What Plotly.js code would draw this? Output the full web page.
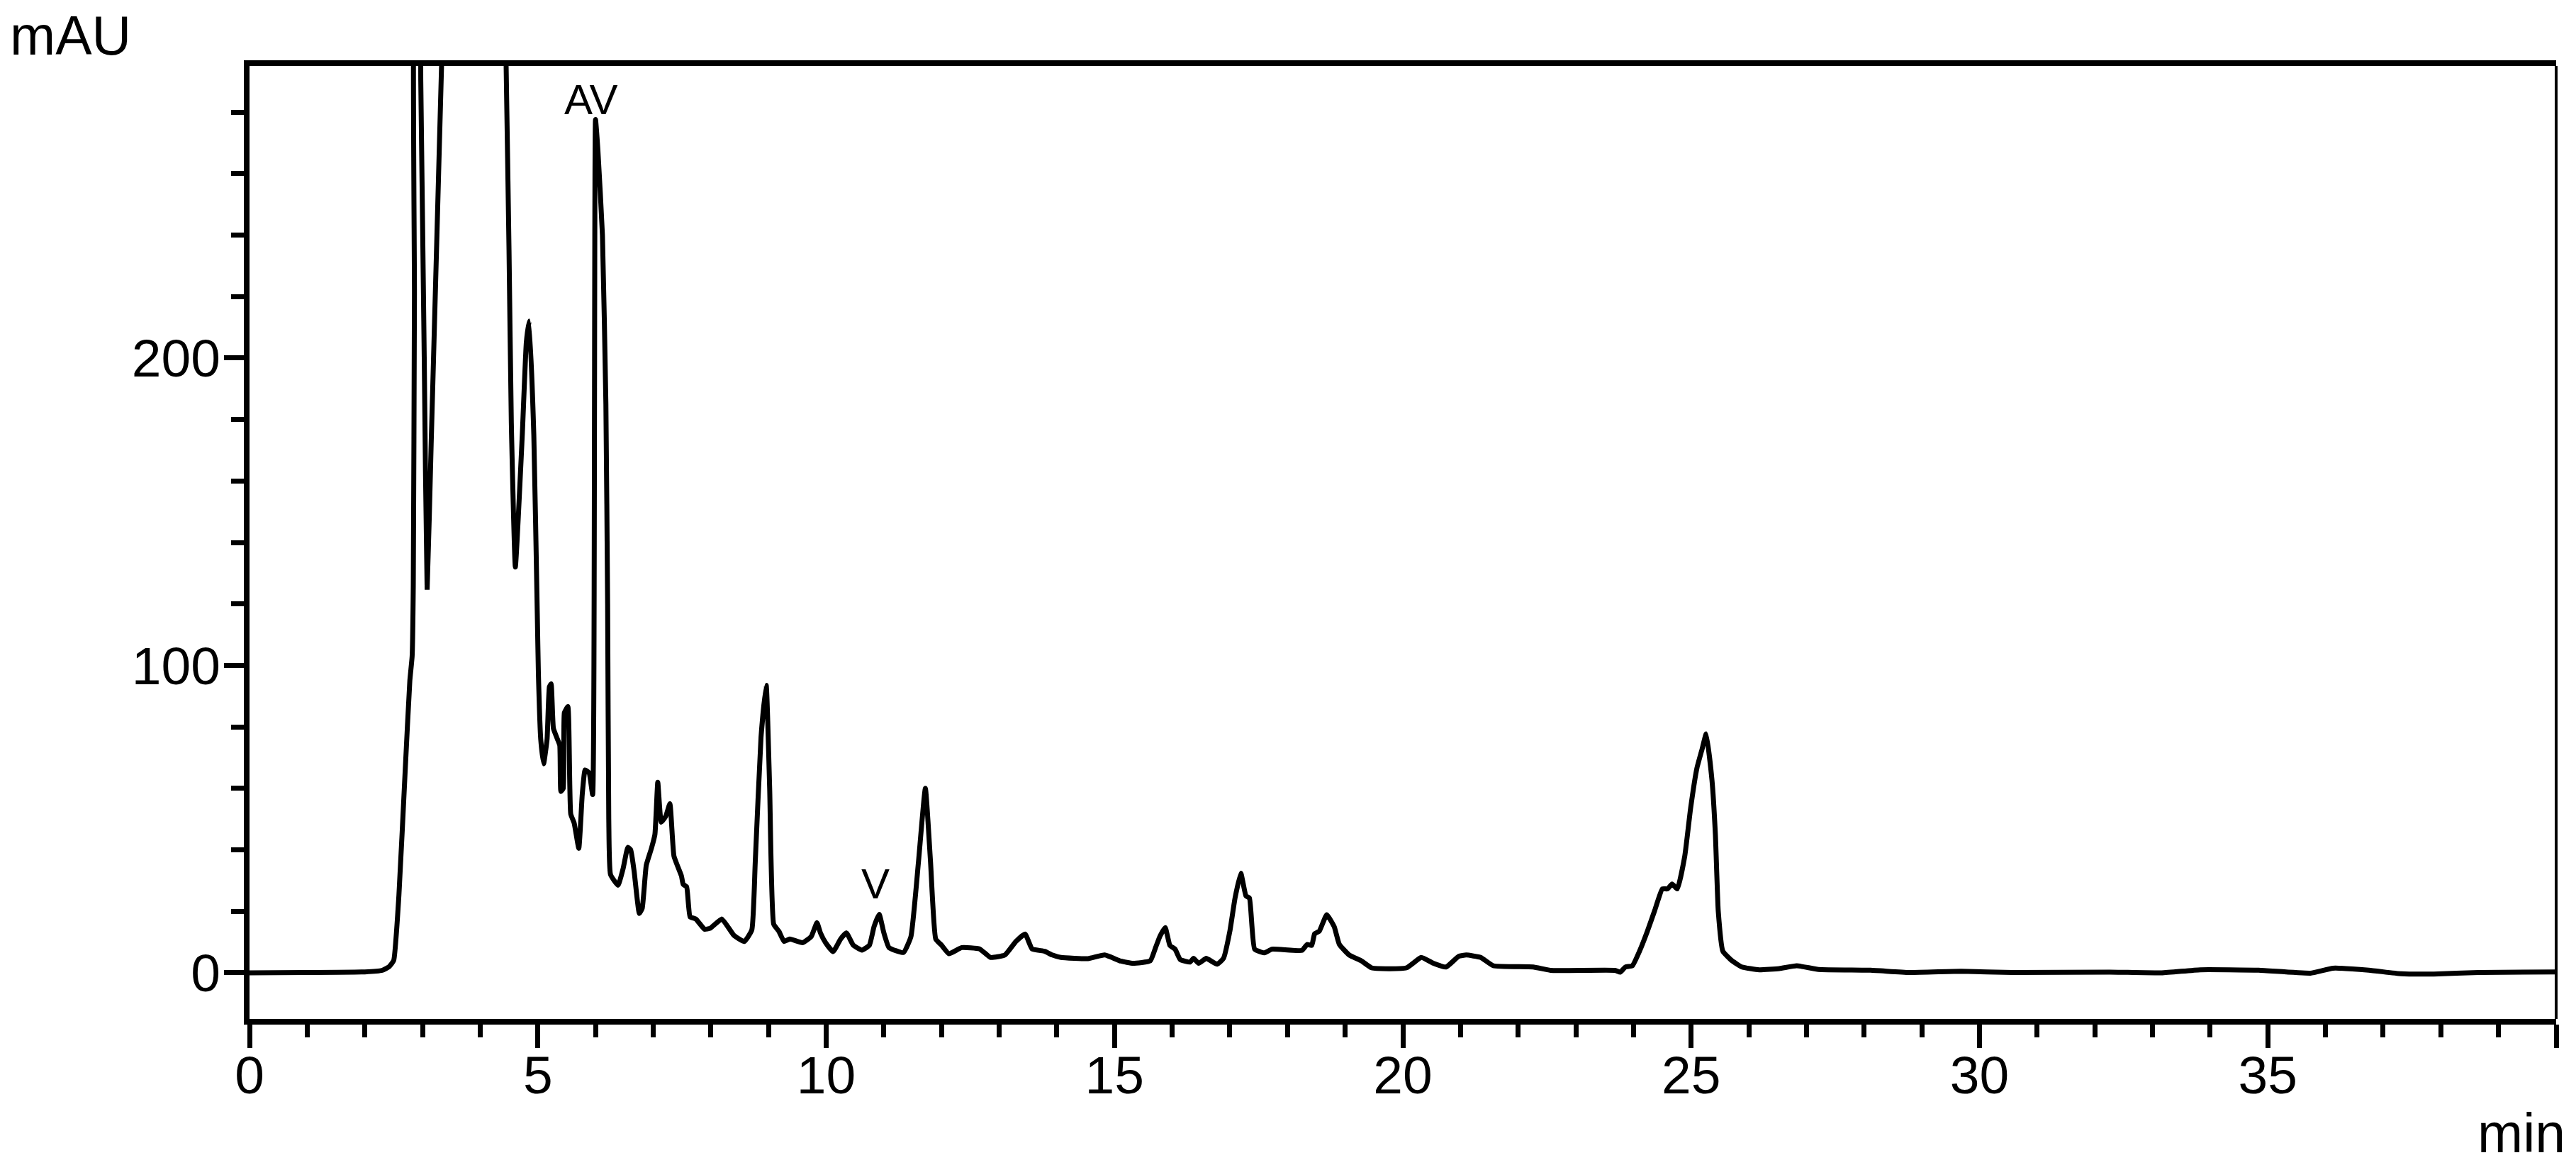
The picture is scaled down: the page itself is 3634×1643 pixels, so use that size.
<!DOCTYPE html>
<html>
<head>
<meta charset="utf-8">
<script src="https://cdn.plot.ly/plotly-3.0.1.min.js"></script>
<style>
  html, body { margin: 0; padding: 0; background: #fff; }
  #chart { width: 3634px; height: 1643px; }
</style>
</head>
<body>
<div id="chart"></div>
<script>
// retention time (min) and absorbance (mAU)
var time = [0, 1.0, 2.0, 2.3, 2.42, 2.5, 2.59, 2.7, 2.78, 2.82, 2.84, 2.86, 2.88, 2.94, 2.97, 3.03,
    3.08, 3.15, 3.25, 3.33, 3.40, 4.40, 4.45, 4.50, 4.54, 4.61, 4.73, 4.80, 4.85, 4.93, 4.99, 5.01,
    5.05, 5.10, 5.16, 5.20, 5.23, 5.27, 5.34, 5.38, 5.40, 5.44, 5.46, 5.52, 5.57, 5.63, 5.71, 5.77,
    5.82, 5.89, 5.95, 6.00, 6.04, 6.12, 6.18, 6.21, 6.23, 6.26, 6.39, 6.48, 6.56, 6.61, 6.67, 6.76,
    6.81, 6.88, 6.97, 7.03, 7.08, 7.14, 7.22, 7.29, 7.36, 7.49, 7.52, 7.58, 7.64, 7.74, 7.89, 7.99,
    8.19, 8.40, 8.58, 8.71, 8.77, 8.87, 8.96, 9.02, 9.09, 9.18, 9.27, 9.37, 9.59, 9.74, 9.84, 9.90,
    9.99, 10.12, 10.25, 10.35, 10.47, 10.62, 10.75, 10.83, 10.92, 11.0, 11.09, 11.34, 11.47, 11.6,
    11.72, 11.81, 11.9, 12.0, 12.13, 12.35, 12.66, 12.85, 13.1, 13.29, 13.45, 13.57, 13.79, 13.92,
    14.07, 14.54, 14.83, 15.11, 15.32, 15.62, 15.71, 15.79, 15.88, 15.96, 16.05, 16.14, 16.31, 16.37,
    16.46, 16.59, 16.78, 16.89, 17.0, 17.09, 17.19, 17.28, 17.34, 17.43, 17.6, 17.73, 18.25, 18.34,
    18.42, 18.47, 18.55, 18.68, 18.81, 18.9, 19.07, 19.28, 19.46, 20.06, 20.32, 20.53, 20.75, 20.97,
    21.1, 21.35, 21.57, 22.26, 22.56, 23.68, 23.77, 23.86, 23.98, 24.11, 24.24, 24.37, 24.5, 24.59,
    24.67, 24.76, 24.89, 24.99, 25.1, 25.19, 25.26, 25.36, 25.42, 25.47, 25.55, 25.71, 25.88, 26.18,
    26.53, 26.83, 27.21, 28.11, 28.78, 29.68, 30.58, 32.26, 33.16, 33.83, 34.84, 35.74, 36.13, 36.75,
    37.31, 37.88, 38.66, 40.0];

var mAU = [0, 0.1, 0.3, 0.8, 2, 4, 25, 66, 95, 103, 126, 220, 330, 330, 290, 200,
    124.6, 172, 240, 295, 340, 340, 295, 235, 179, 132, 175, 205, 212, 175, 117, 97,
    76, 68, 76, 93, 94, 79.5, 76, 74, 59, 60, 84.6, 86.6, 51.7, 48.7, 40.5, 58,
    66, 65, 58, 277.6, 268, 240, 185, 120, 50, 32, 28.5, 34, 40.8, 40, 33, 19.3,
    21, 35, 40.5, 45, 62, 49, 51, 55, 38, 31.5, 28.8, 28, 18.2, 17.5, 14.2, 14.5,
    17.5, 12.2, 10.2, 13.9, 36, 76.6, 93.5, 60, 15.8, 13.5, 10.2, 11, 9.8, 11.8, 16.3, 13,
    9.8, 6.9, 11, 13, 9, 7.4, 9, 15, 19, 13, 8.2, 6.6, 11.8, 36,
    60, 36, 11, 9, 6.2, 8.2, 7.8, 5, 5.8, 10.2, 12.6, 7.8, 7, 5.8,
    5, 4.6, 5.8, 3.8, 3.1, 3.9, 8.1, 12, 14.7, 8.9, 7.7, 4.3, 3.5, 4.7,
    3.1, 4.7, 2.8, 4.7, 13.5, 24.3, 32.4, 25, 24.3, 7.7, 6.5, 7.7, 7.3, 9.2,
    8.9, 12.7, 13.5, 18.9, 15, 9.2, 5.8, 3.9, 1.6, 1.6, 5, 3.1, 1.9, 5.4,
    5.8, 5, 2.3, 1.9, 0.8, 0.8, 0.2, 1.9, 2.3, 7.3, 13.5, 20.4, 27.3, 27.3,
    28.9, 27.3, 38.1, 53.5, 66.6, 72.8, 77.7, 62.8, 45, 20, 7, 3.9, 1.9, 1.0,
    1.4, 2.3, 1.1, 0.85, 0.1, 0.5, 0.1, 0.25, 0, 1, 0.85, -0.1, 1.5, 0.85,
    -0.3, -0.4, 0.1, 0.3];

// peak labels
var peakNames = ["AV", "V"];
var peakTimes = [5.93, 10.85];
var peakLabelY = [284, 29];

var trace = {
    x: time,
    y: mAU,
    mode: 'lines',
    type: 'scatter',
    line: { color: '#000', width: 7, shape: 'spline', smoothing: 0.4 },
    hoverinfo: 'skip'
};

var font = "Liberation Sans, Arial, Helvetica, sans-serif";
var narrow = "Liberation Sans Narrow, Liberation Sans, Arial, sans-serif";

var annotations = [];
for (var i = 0; i < peakNames.length; i++) {
    annotations.push({
        x: peakTimes[i], y: peakLabelY[i], xref: 'x', yref: 'y',
        text: peakNames[i], showarrow: false,
        font: { family: font, size: 60, color: '#000' }
    });
}
annotations.push({
    xref: 'paper', yref: 'paper', x: -0.0775, y: 1.032,
    xanchor: 'center', yanchor: 'middle',
    text: 'mAU', showarrow: false,
    font: { family: narrow, size: 77, color: '#000' }
});
annotations.push({
    xref: 'paper', yref: 'paper', x: 0.985, y: -0.12,
    xanchor: 'center', yanchor: 'middle',
    text: 'min', showarrow: false,
    font: { family: font, size: 77, color: '#000' }
});

var layout = {
    width: 3634,
    height: 1643,
    margin: { l: 352, r: 28, t: 93, b: 206 },
    paper_bgcolor: '#fff',
    plot_bgcolor: '#fff',
    showlegend: false,
    font: { family: font, color: '#000' },
    xaxis: {
        range: [0, 40],
        dtick: 5,
        ticks: 'outside',
        ticklen: 33,
        tickwidth: 7,
        tickcolor: '#000',
        ticklabelstandoff: -26,
        showline: true,
        linewidth: 8,
        linecolor: '#000',
        mirror: true,
        showgrid: false,
        zeroline: false,
        tickfont: { family: font, size: 75, color: '#000' },
        minor: { dtick: 1, ticks: 'outside', ticklen: 18, tickwidth: 7, tickcolor: '#000', showgrid: false }
    },
    yaxis: {
        range: [-15, 295],
        dtick: 100,
        ticks: 'outside',
        ticklen: 28,
        tickwidth: 7,
        tickcolor: '#000',
        ticklabelstandoff: -10,
        showline: true,
        linewidth: 8,
        linecolor: '#000',
        mirror: false,
        showgrid: false,
        zeroline: false,
        tickfont: { family: font, size: 75, color: '#000' },
        minor: { dtick: 20, ticks: 'outside', ticklen: 18, tickwidth: 7, tickcolor: '#000', showgrid: false }
    },
    shapes: [{
        type: 'line', xref: 'paper', yref: 'paper',
        x0: 1, x1: 1, y0: 0, y1: 1,
        line: { color: '#000', width: 4 }
    }],
    annotations: annotations
};

Plotly.newPlot('chart', [trace], layout, { displayModeBar: false, staticPlot: true });
</script>
</body>
</html>
